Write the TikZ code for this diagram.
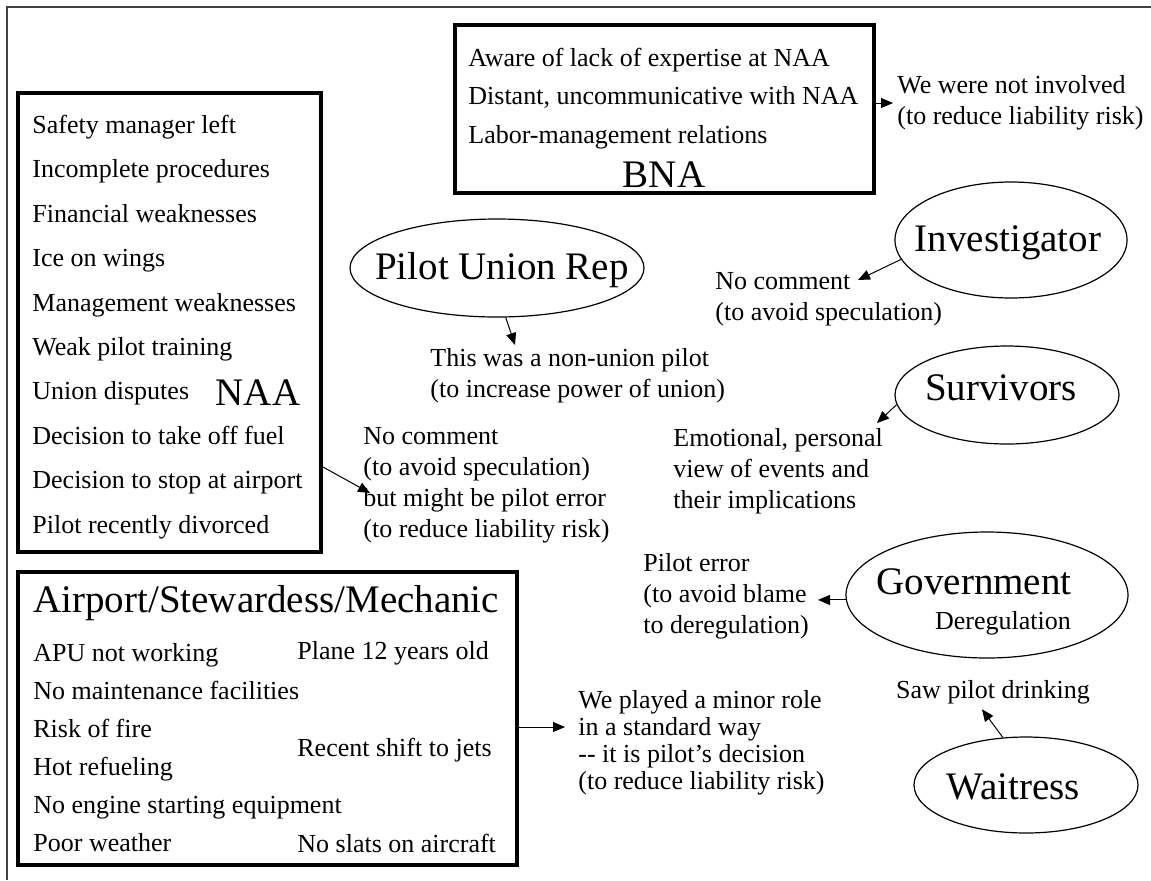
\documentclass[tikz,border=0pt]{standalone}
\usepackage{fontspec}
\setmainfont{Liberation Serif}
\usetikzlibrary{shapes.geometric,arrows.meta}
\begin{document}
\begin{tikzpicture}[x=0.5pt,y=-0.5pt,
    factorbox/.style={draw=black,line width=2pt,rectangle},
    actor/.style={draw=black,line width=0.6pt,ellipse},
    bigname/.style={font=\fontsize{19.5}{23}\selectfont},
    itemlist/.style={align=left,anchor=west,font=\fontsize{13}{19}\selectfont},
    reply/.style={align=left,anchor=west,font=\fontsize{13}{15.5}\selectfont},
    link/.style={-{Triangle[length=6pt,width=5pt]},line width=0.5pt}]
    \tikzstyle{every node}+=[inner sep=0pt]
    \useasboundingbox (0,0) rectangle (1151,880);
    \draw [black!75,line width=0.6pt] (1151,7) -- (7,7) -- (7,880);
    % NAA
    \node [factorbox,minimum width=151.5pt,minimum height=229.5pt] (naa) at (169.5,322.5) {};
    \node [itemlist,font=\fontsize{13}{22.2}\selectfont] (naaitems) at (32,327) {Safety manager left\\Incomplete procedures\\Financial weaknesses\\Ice on wings\\Management weaknesses\\Weak pilot training\\Union disputes\\Decision to take off fuel\\Decision to stop at airport\\Pilot recently divorced};
    \node [bigname] (naaname) at (258,393) {NAA};
    % BNA
    \node [factorbox,minimum width=209.5pt,minimum height=84pt] (bna) at (664.5,109) {};
    \node [itemlist,font=\fontsize{13}{19.25}\selectfont] (bnaitems) at (468,98.5) {Aware of lack of expertise at NAA\\Distant, uncommunicative with NAA\\Labor-management relations};
    \node [bigname] (bnaname) at (664,175) {BNA};
    % Airport
    \node [factorbox,minimum width=249.5pt,minimum height=146.5pt] (apt) at (267.5,718.5) {};
    \node [bigname,anchor=west] (aptname) at (33,603) {Airport/Stewardess/Mechanic};
    \node [itemlist] (aptitems) at (33,748) {APU not working\\No maintenance facilities\\Risk of fire\\Hot refueling\\No engine starting equipment\\Poor weather};
    \node [itemlist] (aptage) at (297,653) {Plane 12 years old};
    \node [itemlist] (aptjets) at (297,750) {Recent shift to jets};
    \node [itemlist] (aptslats) at (297,843) {No slats on aircraft};
    % actors
    \node [actor,minimum width=147pt,minimum height=49pt] (pilot) at (497,268) {};
    \node [bigname] (pilotname) at (502,270) {Pilot Union Rep};
    \node [actor,minimum width=116pt,minimum height=58pt] (inv) at (1011,240) {};
    \node [bigname] (invname) at (1008,243) {Investigator};
    \node [actor,minimum width=112pt,minimum height=49pt] (surv) at (1007,395) {};
    \node [bigname] (survname) at (1001,388) {Survivors};
    \node [actor,minimum width=141pt,minimum height=63pt] (gov) at (987,595) {};
    \node [bigname] (govname) at (974,582) {Government};
    \node [font=\fontsize{13}{15.5}\selectfont] (govdereg) at (1003,623) {Deregulation};
    \node [actor,minimum width=112pt,minimum height=48pt] (wait) at (1026,785) {};
    \node [bigname] (waitname) at (1013,787) {Waitress};
    % replies
    \node [reply] (bnaresp) at (897,103) {We were not involved\\(to reduce liability risk)};
    \node [reply] (naaresp) at (363,485) {No comment\\(to avoid speculation)\\but might be pilot error\\(to reduce liability risk)};
    \node [reply] (unionresp) at (430,376) {This was a non-union pilot\\(to increase power of union)};
    \node [reply] (invresp) at (715,299) {No comment\\(to avoid speculation)};
    \node [reply] (survresp) at (673,471) {Emotional, personal\\view of events and\\their implications};
    \node [reply] (govresp) at (643,596) {Pilot error\\(to avoid blame\\to deregulation)};
    \node [reply,font=\fontsize{13}{13.5}\selectfont] (aptresp) at (578,742.5) {We played a minor role\\in a standard way\\{-}{-} it is pilot's decision\\(to reduce liability risk)};
    \node [font=\fontsize{13}{15.5}\selectfont] (drink) at (993,692) {Saw pilot drinking};
    % links
    \draw [link] ([yshift=3pt]bna.east) -- ([xshift=-2pt]bnaresp.west);
    \draw [link] ([yshift=-72.25pt]naa.east) -- ([xshift=3.5pt,yshift=-4pt]naaresp.west);
    \draw [link] ([yshift=-4.25pt]apt.east) -- ([xshift=-6.5pt,yshift=7.75pt]aptresp.west);
    \draw [link] (pilot.-80) -- ([xshift=42.5pt,yshift=15.5pt]unionresp.west);
    \draw [link] (inv.190) -- ([xshift=71.5pt,yshift=9.5pt]invresp.west);
    \draw [link] (surv.185) -- ([xshift=102pt,yshift=24pt]survresp.west);
    \draw [link] (gov.182) -- ([xshift=87.5pt]govresp.west |- gov.182);
    \draw [link] (wait.116) -- ([xshift=-5.5pt,yshift=-2.5pt]drink.south);
\end{tikzpicture}
\end{document}
